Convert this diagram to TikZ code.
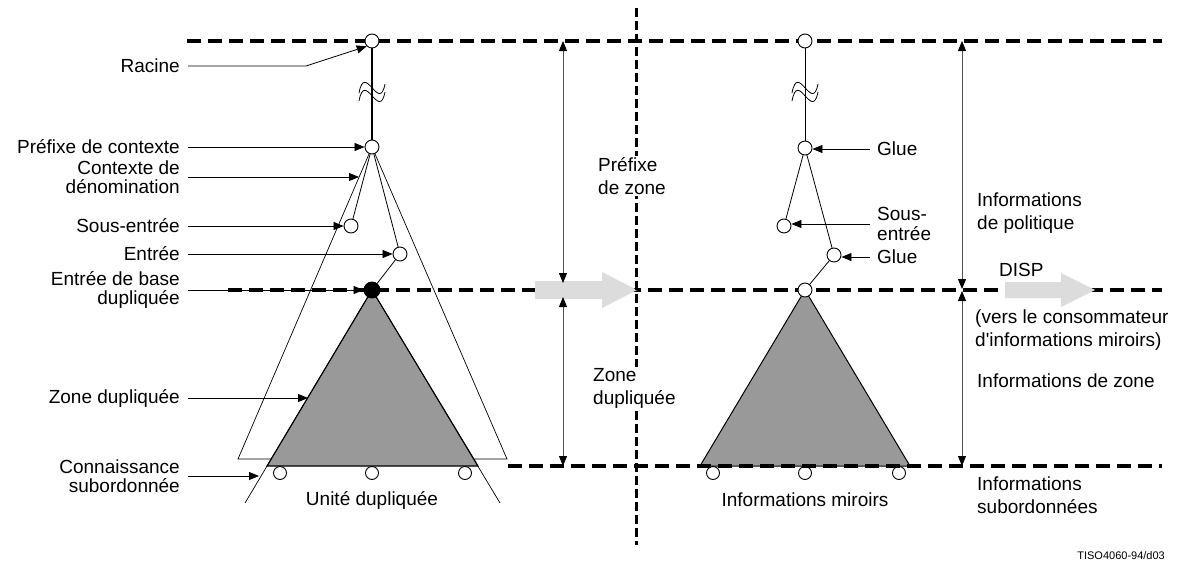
\documentclass[tikz,border=0pt]{standalone}
\usepackage{fontspec}
\setmainfont{Liberation Sans}
\usepackage{tikz}
\usetikzlibrary{arrows.meta, positioning, calc}
\definecolor{zonegrey}{HTML}{999999}
\definecolor{flowgrey}{HTML}{DCDCDC}
\definecolor{extentgrey}{HTML}{505050}

\tikzset{
  treenode/.style={circle, draw, fill=white, line width=0.9pt, inner sep=0pt, minimum size=14pt},
  leafnode/.style={circle, draw, fill=white, line width=0.9pt, inner sep=0pt, minimum size=13pt},
  levelline/.style={line width=4pt, dash pattern=on 14pt off 7pt},
  splitline/.style={line width=3pt, dash pattern=on 9pt off 4pt},
  pointer/.style={line width=0.8pt, -{Triangle[length=10pt,width=8pt]}},
  extent/.style={draw=extentgrey, line width=0.8pt,
    {Triangle[length=10pt,width=8pt,color=black]}-{Triangle[length=10pt,width=8pt,color=black]}},
  lbl/.style={font=\fontsize{19}{19.5}\selectfont, inner sep=0pt},
  lblwide/.style={font=\fontsize{19}{23}\selectfont, inner sep=0pt},
}

\begin{document}
\begin{tikzpicture}[x=1pt, y=-1pt]
  \fill[white] (0,0) rectangle (1183,562);
  \useasboundingbox (0,0) rectangle (1183,562);

  % naming context cone and replicated area
  \coordinate (outerL) at (238,459);
  \coordinate (outerR) at (507,459);
  \draw[line width=0.7pt] (372,147) -- (outerL) -- (outerR) -- cycle;
  \fill[zonegrey] (372,290) -- (267,466) -- (478,466) -- cycle;
  \draw[line width=0.7pt] (245,503) -- (372,290) -- (500,503);
  \draw[line width=1.1pt] (267,466) -- (372,290) -- (478,466) -- cycle;
  \fill[zonegrey, draw=black, line width=1pt] (805,290) -- (700,466) -- (910,466) -- cycle;

  % subordinate references
  \foreach \lx in {280,372,465,713,805,899}
    \node[leafnode] (leaf\lx) at (\lx,473) {};

  % levels
  \draw[levelline] (187,41) -- (1162,41);
  \draw[levelline] (228,290) -- (1162,290);
  \draw[levelline] (508,466) -- (1162,466);

  % flow arrows
  \fill[flowgrey] (535,281) -- (602,281) -- (602,272) -- (637,290) -- (602,308) -- (602,299) -- (535,299) -- cycle;
  \fill[flowgrey] (1005,282) -- (1061,282) -- (1061,273) -- (1095,290) -- (1061,307) -- (1061,298) -- (1005,298) -- cycle;

  \draw[splitline] (636,8) -- (636,545);

  % extents
  \draw[extent] (563,41) -- (563,283);
  \draw[extent] (563,297) -- (563,466);
  \draw[extent] (962,41) -- (962,289);
  \draw[extent] (962,291) -- (962,466);

  % trees
  \node[treenode] (rootL) at (372,41) {};
  \node[treenode] (prefixL) at (372,147) {};
  \node[treenode] (subL) at (351,226) {};
  \node[treenode] (entryL) at (400,254) {};
  \node[treenode, fill=black, minimum size=16pt] (baseL) at (372,290) {};
  \draw[line width=1.4pt] (rootL) -- (prefixL);
  \draw[line width=0.8pt] (prefixL) -- (subL);
  \draw[line width=0.8pt] (prefixL) -- (entryL);
  \draw[line width=0.8pt] (entryL) -- (baseL);

  \node[treenode] (rootR) at (805,41) {};
  \node[treenode] (glueR) at (805,148) {};
  \node[treenode] (subR) at (784,226) {};
  \node[treenode] (glueRb) at (834,255) {};
  \node[treenode] (baseR) at (805,290) {};
  \draw[line width=0.9pt] (rootR) -- (glueR);
  \draw[line width=0.8pt] (glueR) -- (subR);
  \draw[line width=0.8pt] (glueR) -- (glueRb);
  \draw[line width=0.8pt] (glueRb) -- (baseR);

  % breaks in the path to the root
  \foreach \tx in {372,805} {
    \draw[line width=0.8pt] (\tx,87) ++(-13,6) .. controls +(6,-32) and +(-6,30) .. ++(26,-9);
    \draw[line width=0.8pt] (\tx,95) ++(-13,6) .. controls +(6,-32) and +(-6,30) .. ++(26,-9);
  }

  % left labels
  \node[lbl, anchor=east] (lblRacine) at (180,66) {Racine};
  \node[lbl, anchor=east] (lblPrefix) at (180,147) {Préfixe de contexte};
  \node[lbl, anchor=east, align=right] (lblContext) at (180,177) {Contexte de\\dénomination};
  \node[lbl, anchor=east] (lblSub) at (180,226) {Sous-entrée};
  \node[lbl, anchor=east] (lblEntry) at (180,254) {Entrée};
  \node[lbl, anchor=east, align=right] (lblBase) at (180,290) {Entrée de base\\dupliquée};
  \node[lbl, anchor=east] (lblZone) at (180,398) {Zone dupliquée};
  \node[lbl, anchor=east, align=right] (lblKnow) at (180,476) {Connaissance\\subordonnée};
  \node[lbl] (lblUnit) at (372,500) {Unité dupliquée};

  \coordinate (contextHit) at (359,177);
  \coordinate (zoneHit) at (308,398);
  \coordinate (knowHit) at (259,476);

  \draw[pointer] ([xshift=8pt]lblRacine.east) -- ++(118,0) -- (rootL.south west);
  \draw[pointer] ([xshift=8pt]lblPrefix.east) -- (lblPrefix.east -| prefixL.west);
  \draw[pointer] ([xshift=8pt]lblContext.east) -- (lblContext.east -| contextHit);
  \draw[pointer] ([xshift=8pt]lblSub.east) -- (lblSub.east -| subL.west);
  \draw[pointer] ([xshift=8pt]lblEntry.east) -- (lblEntry.east -| entryL.west);
  \draw[pointer] ([xshift=8pt]lblBase.east) -- (lblBase.east -| baseL.west);
  \draw[pointer] ([xshift=8pt]lblZone.east) -- (lblZone.east -| zoneHit);
  \draw[pointer] ([xshift=8pt]lblKnow.east) -- (lblKnow.east -| knowHit);

  % middle labels
  \node[lblwide, anchor=west, align=left, fill=white, inner sep=1pt] (lblPrefZone) at (597,176) {Préfixe\\de zone};
  \node[lblwide, anchor=west, align=left, fill=white, inner sep=1pt] (lblDupZone) at (592,388) {Zone\\dupliquée};

  % right tree labels
  \node[lbl, anchor=west] (lblGlueA) at (877,149) {Glue};
  \node[lbl, anchor=west, align=left] (lblSubR) at (877,224) {Sous-\\entrée};
  \node[lbl, anchor=west] (lblGlueB) at (877,257) {Glue};
  \draw[pointer] ([xshift=-7pt]lblGlueA.west) -- (lblGlueA.west -| glueR.east);
  \draw[pointer] ([xshift=-7pt]lblSubR.west) -- (lblSubR.west -| subR.east);
  \draw[pointer] ([xshift=-7pt]lblGlueB.west) -- (lblGlueB.west -| glueRb.east);
  \node[lbl] (lblMirror) at (805,500) {Informations miroirs};

  % right column
  \node[lblwide, anchor=west, align=left] (lblPolicy) at (977,213) {Informations\\de politique};
  \node[lbl, anchor=west] (lblDisp) at (999,270) {DISP};
  \node[lblwide, anchor=west, align=left] (lblConsumer) at (975,330) {(vers le consommateur\\d\textquotesingle informations miroirs)};
  \node[lbl, anchor=west] (lblZoneInfo) at (977,381) {Informations de zone};
  \node[lblwide, anchor=west, align=left] (lblSubInfo) at (977,495) {Informations\\subordonnées};

  \node[font=\fontsize{11}{13}\selectfont, anchor=east, inner sep=0pt] (lblRef) at (1165,556) {TISO4060-94/d03};
\end{tikzpicture}
\end{document}
